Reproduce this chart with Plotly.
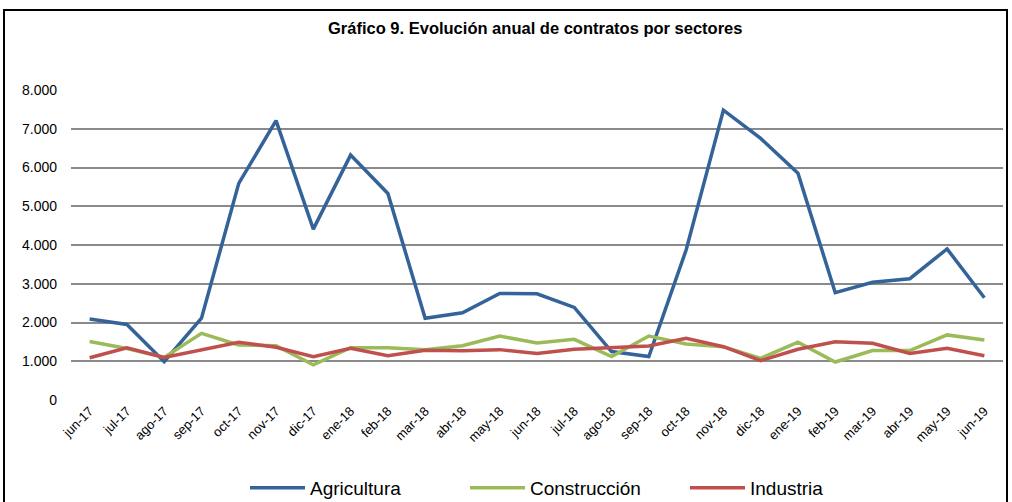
import plotly.graph_objects as go

months = ["jun-17", "jul-17", "ago-17", "sep-17", "oct-17", "nov-17", "dic-17", "ene-18",
          "feb-18", "mar-18", "abr-18", "may-18", "jun-18", "jul-18", "ago-18", "sep-18",
          "oct-18", "nov-18", "dic-18", "ene-19", "feb-19", "mar-19", "abr-19", "may-19", "jun-19"]

agricultura = [2090, 1950, 990, 2110, 5590, 7210, 4410, 6320, 5330, 2110, 2250, 2750, 2740,
               2390, 1250, 1120, 3870, 7480, 6750, 5850, 2770, 3040, 3130, 3900, 2640]
construccion = [1510, 1330, 1100, 1720, 1420, 1400, 910, 1350, 1350, 1300, 1400, 1650, 1470,
                1566, 1120, 1650, 1445, 1376, 1075, 1490, 980, 1275, 1275, 1680, 1550]
industria = [1090, 1350, 1100, 1290, 1490, 1360, 1115, 1335, 1145, 1285, 1270, 1300, 1200,
             1308, 1360, 1394, 1590, 1376, 1015, 1308, 1505, 1462, 1200, 1333, 1144]

y_tickvals = [0, 1000, 2000, 3000, 4000, 5000, 6000, 7000, 8000]
y_ticktext = ["0", "1.000", "2.000", "3.000", "4.000", "5.000", "6.000", "7.000", "8.000"]

title_text = "Gráfico 9. Evolución anual de contratos por sectores"

FONT = "Liberation Sans, Arial, sans-serif"

fig = go.Figure()
for name, vals, color in [("Agricultura", agricultura, "#34639A"),
                          ("Construcción", construccion, "#9BBB59"),
                          ("Industria", industria, "#C0504D")]:
    fig.add_trace(go.Scatter(x=months, y=vals, name=name, mode="lines",
                             line=dict(color=color, width=3.5)))

W, H = 1012, 502
L, R, T, B = 71, 9, 90, 102
pw, ph = W - L - R, H - T - B

def px_x(p):
    return (p - L) / pw

def px_y(p):
    return (H - B - p) / ph

fig.update_layout(
    width=W, height=H,
    margin=dict(l=L, r=R, t=T, b=B, autoexpand=False),
    paper_bgcolor="white", plot_bgcolor="white",
    font=dict(family=FONT, color="black"),
    showlegend=True,
    legend=dict(orientation="h", x=px_x(245), xanchor="left", y=px_y(488), yanchor="middle",
                font=dict(size=19, family=FONT), entrywidth=150, entrywidthmode="pixels",
                itemwidth=55),
    xaxis=dict(type="category", range=[-0.5, len(months) - 0.5], showgrid=False,
               tickangle=-45, tickfont=dict(size=13), showline=False, zeroline=False,
               ticks="", automargin=False),
    yaxis=dict(range=[0, 8000], tickvals=y_tickvals, ticktext=y_ticktext,
               showgrid=True, gridcolor="#8a8a8a", gridwidth=2, zeroline=False,
               tickfont=dict(size=14), ticklabelstandoff=13, showline=False,
               automargin=False),
    annotations=[dict(text="<b>" + title_text + "</b>", xref="paper", yref="paper",
                      x=px_x(535), y=px_y(28), xanchor="center", yanchor="middle",
                      showarrow=False, font=dict(size=16.5, family=FONT))],
    shapes=[dict(type="rect", xref="paper", yref="paper",
                 x0=px_x(4), x1=px_x(1007), y0=px_y(520), y1=px_y(10),
                 line=dict(color="black", width=2), fillcolor="rgba(0,0,0,0)", layer="below")],
)

fig.write_html("out.html", config={"displayModeBar": False},
               post_script="document.body.style.margin='0';document.body.style.overflow='hidden';")
